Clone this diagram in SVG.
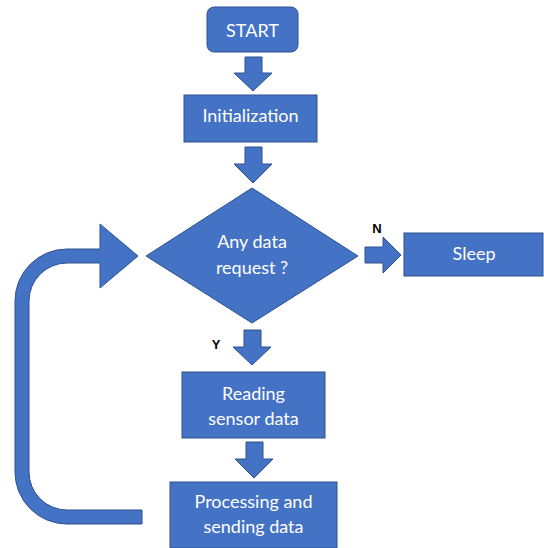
<svg xmlns="http://www.w3.org/2000/svg" width="544" height="548" viewBox="0 0 544 548">
<style>
.shape{fill:#4472C4;stroke:#2F528F;stroke-width:1}
.lbl{font-family:Lato,"Liberation Sans",sans-serif;font-size:18px;fill:#FFFFFF;text-anchor:middle}
.yn{font-family:"Liberation Sans",Arial,sans-serif;font-size:13px;font-weight:bold;fill:#000000;text-anchor:middle}
</style>
<rect width="544" height="548" fill="#FFFFFF"/>
<g id="connectors">
<polygon class="shape" points="245,57 262,57 262,73 272,73 253,91 234,73 245,73"/>
<polygon class="shape" points="245,147 262,147 262,164 272,164 253,183 234,164 245,164"/>
<polygon class="shape" points="244,330 261,330 261,347 271,347 252,365 233,347 244,347"/>
<polygon class="shape" points="246,442 263,442 263,459 273,459 254,478 235,459 246,459"/>
<polygon class="shape" points="365,247 383,247 383,237 401,255 383,273 383,263 365,263"/>
<path class="shape" d="M142,524 L67,524 A52,52 0 0 1 15,472 L15,301 A52,52 0 0 1 67,249 L100,249 L100,224 L138,256 L100,288 L100,263 L67,263 A38,38 0 0 0 29,301 L29,472 A38,38 0 0 0 67,510 L142,510 Z"/>
<text class="yn" x="377" y="233">N</text>
<text class="yn" x="216" y="349">Y</text>
</g>
<g id="start">
<rect class="shape" x="207" y="7" width="91" height="45" rx="7"/>
<text class="lbl" x="252.5" y="37">START</text>
</g>
<g id="init">
<rect class="shape" x="184" y="95" width="133" height="47"/>
<text class="lbl" x="250.5" y="122">Initialization</text>
</g>
<g id="decision">
<polygon class="shape" points="252,188 358,256 252,323 146,256"/>
<text class="lbl" x="252" y="248">Any data</text>
<text class="lbl" x="252" y="274">request ?</text>
</g>
<g id="sleep">
<rect class="shape" x="404" y="233" width="139" height="43"/>
<text class="lbl" x="474" y="260">Sleep</text>
</g>
<g id="reading">
<rect class="shape" x="182" y="372" width="143" height="66"/>
<text class="lbl" x="253.5" y="400">Reading</text>
<text class="lbl" x="253.5" y="425">sensor data</text>
</g>
<g id="processing">
<rect class="shape" x="170" y="482" width="167" height="66"/>
<text class="lbl" x="253.5" y="508">Processing and</text>
<text class="lbl" x="253.5" y="533">sending data</text>
</g>
</svg>
